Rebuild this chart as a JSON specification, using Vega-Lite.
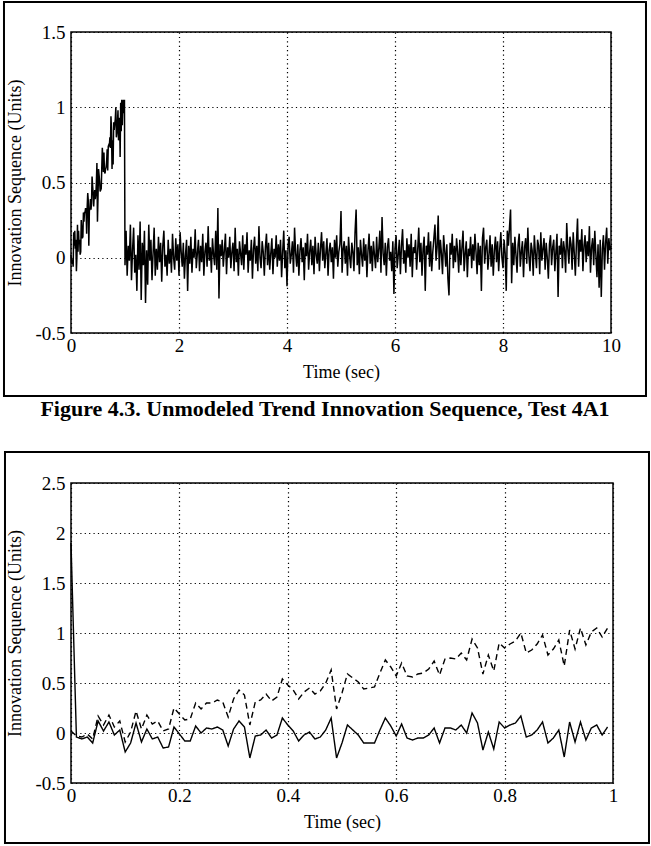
{
"$schema":"https://vega.github.io/schema/vega-lite/v6.json",
"padding":{"left":2,"top":0,"right":0,"bottom":0},
"background":"white",
"spacing":29,
"config":{
"locale":{"number":{"decimal":".","thousands":",","grouping":[3],"currency":["$",""],"minus":"-"}},
"font":"Liberation Serif",
"view":{"stroke":"black","strokeWidth":1.5},
"axis":{"labelFont":"Liberation Serif","labelFontSize":19,"labelColor":"black","labelFlush":false,"labelOverlap":false,"titleFont":"Liberation Serif","titleFontSize":18,"titleFontWeight":"normal","titleColor":"black","domain":false,"ticks":false,"grid":true,"gridColor":"black","gridDash":[1.2,3.2],"gridWidth":1.2,"gridOpacity":1},
"axisX":{"titlePadding":8,"labelPadding":3},
"axisY":{"titlePadding":10,"labelPadding":6}
},
"datasets":{
"top":[
{"t":0.00,"v":0.02},{"t":0.01,"v":-0.03},{"t":0.02,"v":-0.04},{"t":0.03,"v":-0.01},{"t":0.04,"v":-0.06},{"t":0.05,"v":0.17},{"t":0.06,"v":0.08},{"t":0.07,"v":0.18},{"t":0.08,"v":0.06},{"t":0.09,"v":0.12},
{"t":0.10,"v":-0.09},{"t":0.11,"v":0.01},{"t":0.12,"v":0.22},{"t":0.13,"v":0.04},{"t":0.14,"v":0.18},{"t":0.15,"v":0.09},{"t":0.16,"v":0.12},{"t":0.17,"v":0.02},{"t":0.18,"v":0.04},{"t":0.19,"v":0.25},
{"t":0.20,"v":0.19},{"t":0.21,"v":0.13},{"t":0.22,"v":0.14},{"t":0.23,"v":0.30},{"t":0.24,"v":0.24},{"t":0.25,"v":0.30},{"t":0.26,"v":0.30},{"t":0.27,"v":0.33},{"t":0.28,"v":0.31},{"t":0.29,"v":0.16},
{"t":0.30,"v":0.34},{"t":0.31,"v":0.43},{"t":0.32,"v":0.38},{"t":0.33,"v":0.08},{"t":0.34,"v":0.31},{"t":0.35,"v":0.33},{"t":0.36,"v":0.39},{"t":0.37,"v":0.32},{"t":0.38,"v":0.36},{"t":0.39,"v":0.54},
{"t":0.40,"v":0.48},{"t":0.41,"v":0.43},{"t":0.42,"v":0.34},{"t":0.43,"v":0.41},{"t":0.44,"v":0.45},{"t":0.45,"v":0.39},{"t":0.46,"v":0.42},{"t":0.47,"v":0.50},{"t":0.48,"v":0.63},{"t":0.49,"v":0.24},
{"t":0.50,"v":0.40},{"t":0.51,"v":0.59},{"t":0.52,"v":0.55},{"t":0.53,"v":0.51},{"t":0.54,"v":0.44},{"t":0.55,"v":0.45},{"t":0.56,"v":0.46},{"t":0.57,"v":0.60},{"t":0.58,"v":0.73},{"t":0.59,"v":0.66},
{"t":0.60,"v":0.57},{"t":0.61,"v":0.70},{"t":0.62,"v":0.57},{"t":0.63,"v":0.56},{"t":0.64,"v":0.59},{"t":0.65,"v":0.60},{"t":0.66,"v":0.64},{"t":0.67,"v":0.72},{"t":0.68,"v":0.58},{"t":0.69,"v":0.74},
{"t":0.70,"v":0.75},{"t":0.71,"v":0.74},{"t":0.72,"v":0.80},{"t":0.73,"v":0.73},{"t":0.74,"v":0.94},{"t":0.75,"v":0.85},{"t":0.76,"v":0.59},{"t":0.77,"v":0.78},{"t":0.78,"v":0.62},{"t":0.79,"v":0.90},
{"t":0.80,"v":0.85},{"t":0.81,"v":0.89},{"t":0.82,"v":0.92},{"t":0.83,"v":1.00},{"t":0.84,"v":0.80},{"t":0.85,"v":0.83},{"t":0.86,"v":0.89},{"t":0.87,"v":0.98},{"t":0.88,"v":0.78},{"t":0.89,"v":0.84},
{"t":0.90,"v":0.93},{"t":0.91,"v":0.67},{"t":0.92,"v":1.03},{"t":0.93,"v":0.84},{"t":0.94,"v":1.05},{"t":0.95,"v":0.88},{"t":0.96,"v":1.01},{"t":0.97,"v":1.05},{"t":0.98,"v":0.96},{"t":0.99,"v":1.05},
{"t":1.00,"v":-0.05},{"t":1.02,"v":0.18},{"t":1.04,"v":-0.12},{"t":1.06,"v":0.08},{"t":1.08,"v":-0.02},{"t":1.10,"v":0.22},{"t":1.12,"v":-0.15},{"t":1.14,"v":0.05},{"t":1.16,"v":0.20},{"t":1.18,"v":-0.10},
{"t":1.20,"v":0.02},{"t":1.22,"v":-0.22},{"t":1.24,"v":0.15},{"t":1.26,"v":-0.08},{"t":1.28,"v":0.24},{"t":1.30,"v":-0.28},{"t":1.32,"v":0.10},{"t":1.34,"v":-0.05},{"t":1.36,"v":0.18},{"t":1.38,"v":-0.30},
{"t":1.40,"v":0.05},{"t":1.42,"v":-0.18},{"t":1.44,"v":0.22},{"t":1.46,"v":-0.02},{"t":1.48,"v":0.12},{"t":1.50,"v":-0.15},{"t":1.52,"v":0.03},{"t":1.54,"v":0.20},{"t":1.56,"v":-0.12},{"t":1.58,"v":0.06},
{"t":1.60,"v":-0.08},{"t":1.62,"v":0.14},{"t":1.64,"v":-0.03},{"t":1.66,"v":0.10},{"t":1.68,"v":-0.16},{"t":1.70,"v":0.08},{"t":1.72,"v":0.18},{"t":1.74,"v":-0.06},{"t":1.76,"v":0.02},{"t":1.78,"v":-0.12},
{"t":1.80,"v":0.12},{"t":1.82,"v":-0.04},{"t":1.84,"v":0.06},{"t":1.86,"v":-0.10},{"t":1.88,"v":0.16},{"t":1.90,"v":0.00},{"t":1.92,"v":-0.08},{"t":1.94,"v":0.13},{"t":1.96,"v":-0.02},{"t":1.98,"v":0.09},
{"t":2.00,"v":-0.12},{"t":2.02,"v":0.17},{"t":2.04,"v":0.04},{"t":2.06,"v":-0.06},{"t":2.08,"v":0.10},{"t":2.10,"v":-0.14},{"t":2.12,"v":0.02},{"t":2.14,"v":0.12},{"t":2.16,"v":-0.22},{"t":2.18,"v":0.08},
{"t":2.20,"v":-0.04},{"t":2.22,"v":0.14},{"t":2.24,"v":-0.10},{"t":2.26,"v":0.06},{"t":2.28,"v":0.00},{"t":2.30,"v":0.19},{"t":2.32,"v":-0.07},{"t":2.34,"v":0.03},{"t":2.36,"v":0.12},{"t":2.38,"v":-0.09},
{"t":2.40,"v":0.08},{"t":2.42,"v":-0.03},{"t":2.44,"v":0.16},{"t":2.46,"v":-0.12},{"t":2.48,"v":0.04},{"t":2.50,"v":0.10},{"t":2.52,"v":-0.06},{"t":2.54,"v":0.21},{"t":2.56,"v":-0.02},{"t":2.58,"v":0.07},
{"t":2.60,"v":-0.10},{"t":2.62,"v":0.13},{"t":2.64,"v":0.02},{"t":2.66,"v":-0.05},{"t":2.68,"v":0.18},{"t":2.70,"v":-0.08},{"t":2.72,"v":0.33},{"t":2.74,"v":-0.27},{"t":2.76,"v":0.09},{"t":2.78,"v":0.01},
{"t":2.80,"v":0.12},{"t":2.82,"v":-0.06},{"t":2.84,"v":0.05},{"t":2.86,"v":0.16},{"t":2.88,"v":-0.11},{"t":2.90,"v":0.07},{"t":2.92,"v":0.00},{"t":2.94,"v":0.14},{"t":2.96,"v":-0.07},{"t":2.98,"v":0.04},
{"t":3.00,"v":0.10},{"t":3.02,"v":-0.09},{"t":3.04,"v":0.20},{"t":3.06,"v":-0.03},{"t":3.08,"v":0.06},{"t":3.10,"v":-0.12},{"t":3.12,"v":0.11},{"t":3.14,"v":0.03},{"t":3.16,"v":-0.05},{"t":3.18,"v":0.15},
{"t":3.20,"v":-0.08},{"t":3.22,"v":0.09},{"t":3.24,"v":0.02},{"t":3.26,"v":0.17},{"t":3.28,"v":-0.10},{"t":3.30,"v":0.05},{"t":3.32,"v":-0.02},{"t":3.34,"v":0.12},{"t":3.36,"v":-0.14},{"t":3.38,"v":0.06},
{"t":3.40,"v":0.14},{"t":3.42,"v":-0.04},{"t":3.44,"v":0.08},{"t":3.46,"v":-0.09},{"t":3.48,"v":0.21},{"t":3.50,"v":0.00},{"t":3.52,"v":-0.07},{"t":3.54,"v":0.11},{"t":3.56,"v":0.04},{"t":3.58,"v":-0.12},
{"t":3.60,"v":0.07},{"t":3.62,"v":0.16},{"t":3.64,"v":-0.05},{"t":3.66,"v":0.10},{"t":3.68,"v":-0.08},{"t":3.70,"v":0.03},{"t":3.72,"v":0.13},{"t":3.74,"v":-0.11},{"t":3.76,"v":0.06},{"t":3.78,"v":0.00},
{"t":3.80,"v":0.15},{"t":3.82,"v":-0.06},{"t":3.84,"v":0.09},{"t":3.86,"v":-0.02},{"t":3.88,"v":0.12},{"t":3.90,"v":-0.13},{"t":3.92,"v":0.04},{"t":3.94,"v":0.18},{"t":3.96,"v":-0.07},{"t":3.98,"v":0.05},
{"t":4.00,"v":-0.19},{"t":4.02,"v":0.08},{"t":4.04,"v":0.14},{"t":4.06,"v":-0.04},{"t":4.08,"v":0.02},{"t":4.10,"v":0.11},{"t":4.12,"v":-0.10},{"t":4.14,"v":0.20},{"t":4.16,"v":0.03},{"t":4.18,"v":-0.06},
{"t":4.20,"v":0.09},{"t":4.22,"v":-0.12},{"t":4.24,"v":0.05},{"t":4.26,"v":0.13},{"t":4.28,"v":-0.03},{"t":4.30,"v":0.07},{"t":4.32,"v":-0.15},{"t":4.34,"v":0.10},{"t":4.36,"v":0.01},{"t":4.38,"v":0.16},
{"t":4.40,"v":-0.08},{"t":4.42,"v":0.04},{"t":4.44,"v":0.12},{"t":4.46,"v":-0.05},{"t":4.48,"v":0.08},{"t":4.50,"v":-0.11},{"t":4.52,"v":0.14},{"t":4.54,"v":0.02},{"t":4.56,"v":-0.04},{"t":4.58,"v":0.10},
{"t":4.60,"v":-0.09},{"t":4.62,"v":0.06},{"t":4.64,"v":0.17},{"t":4.66,"v":-0.02},{"t":4.68,"v":0.11},{"t":4.70,"v":-0.07},{"t":4.72,"v":0.03},{"t":4.74,"v":0.13},{"t":4.76,"v":-0.12},{"t":4.78,"v":0.05},
{"t":4.80,"v":0.10},{"t":4.82,"v":-0.03},{"t":4.84,"v":0.07},{"t":4.86,"v":-0.14},{"t":4.88,"v":0.12},{"t":4.90,"v":0.00},{"t":4.92,"v":0.15},{"t":4.94,"v":-0.06},{"t":4.96,"v":0.04},{"t":4.98,"v":0.09},
{"t":5.00,"v":0.31},{"t":5.02,"v":-0.10},{"t":5.04,"v":0.06},{"t":5.06,"v":0.11},{"t":5.08,"v":-0.04},{"t":5.10,"v":0.08},{"t":5.12,"v":-0.12},{"t":5.14,"v":0.14},{"t":5.16,"v":0.01},{"t":5.18,"v":-0.07},
{"t":5.20,"v":0.10},{"t":5.22,"v":0.04},{"t":5.24,"v":-0.09},{"t":5.26,"v":0.17},{"t":5.28,"v":0.32},{"t":5.30,"v":-0.05},{"t":5.32,"v":0.07},{"t":5.34,"v":-0.11},{"t":5.36,"v":0.12},{"t":5.38,"v":0.02},
{"t":5.40,"v":-0.06},{"t":5.42,"v":0.13},{"t":5.44,"v":-0.02},{"t":5.46,"v":0.09},{"t":5.48,"v":-0.13},{"t":5.50,"v":0.05},{"t":5.52,"v":0.16},{"t":5.54,"v":-0.04},{"t":5.56,"v":0.08},{"t":5.58,"v":-0.09},
{"t":5.60,"v":0.11},{"t":5.62,"v":0.02},{"t":5.64,"v":-0.07},{"t":5.66,"v":0.14},{"t":5.68,"v":-0.03},{"t":5.70,"v":0.06},{"t":5.72,"v":0.18},{"t":5.74,"v":-0.10},{"t":5.76,"v":0.27},{"t":5.78,"v":0.03},
{"t":5.80,"v":-0.05},{"t":5.82,"v":0.10},{"t":5.84,"v":-0.12},{"t":5.86,"v":0.07},{"t":5.88,"v":0.13},{"t":5.90,"v":-0.02},{"t":5.92,"v":0.04},{"t":5.94,"v":-0.09},{"t":5.96,"v":0.11},{"t":5.98,"v":-0.24},
{"t":6.00,"v":0.06},{"t":6.02,"v":0.15},{"t":6.04,"v":-0.07},{"t":6.06,"v":0.02},{"t":6.08,"v":0.12},{"t":6.10,"v":-0.11},{"t":6.12,"v":0.08},{"t":6.14,"v":0.19},{"t":6.16,"v":-0.04},{"t":6.18,"v":0.05},
{"t":6.20,"v":-0.10},{"t":6.22,"v":0.13},{"t":6.24,"v":0.00},{"t":6.26,"v":0.09},{"t":6.28,"v":-0.06},{"t":6.30,"v":0.16},{"t":6.32,"v":-0.13},{"t":6.34,"v":0.07},{"t":6.36,"v":0.03},{"t":6.38,"v":0.12},
{"t":6.40,"v":-0.08},{"t":6.42,"v":0.05},{"t":6.44,"v":0.20},{"t":6.46,"v":-0.03},{"t":6.48,"v":0.10},{"t":6.50,"v":-0.12},{"t":6.52,"v":0.06},{"t":6.54,"v":0.14},{"t":6.56,"v":-0.22},{"t":6.58,"v":0.08},
{"t":6.60,"v":0.02},{"t":6.62,"v":0.17},{"t":6.64,"v":-0.06},{"t":6.66,"v":0.11},{"t":6.68,"v":-0.09},{"t":6.70,"v":0.04},{"t":6.72,"v":0.13},{"t":6.74,"v":0.22},{"t":6.76,"v":-0.02},{"t":6.78,"v":0.07},
{"t":6.80,"v":0.28},{"t":6.82,"v":-0.08},{"t":6.84,"v":0.12},{"t":6.86,"v":0.03},{"t":6.88,"v":-0.11},{"t":6.90,"v":0.15},{"t":6.92,"v":0.05},{"t":6.94,"v":-0.06},{"t":6.96,"v":0.09},{"t":6.98,"v":-0.14},
{"t":7.00,"v":-0.25},{"t":7.02,"v":0.10},{"t":7.04,"v":0.02},{"t":7.06,"v":0.16},{"t":7.08,"v":-0.07},{"t":7.10,"v":0.08},{"t":7.12,"v":-0.03},{"t":7.14,"v":0.13},{"t":7.16,"v":0.04},{"t":7.18,"v":-0.10},
{"t":7.20,"v":0.12},{"t":7.22,"v":-0.05},{"t":7.24,"v":0.07},{"t":7.26,"v":0.18},{"t":7.28,"v":-0.09},{"t":7.30,"v":0.03},{"t":7.32,"v":0.11},{"t":7.34,"v":-0.13},{"t":7.36,"v":0.06},{"t":7.38,"v":0.01},
{"t":7.40,"v":0.14},{"t":7.42,"v":-0.07},{"t":7.44,"v":0.09},{"t":7.46,"v":-0.02},{"t":7.48,"v":0.16},{"t":7.50,"v":0.04},{"t":7.52,"v":-0.11},{"t":7.54,"v":0.10},{"t":7.56,"v":-0.05},{"t":7.58,"v":0.08},
{"t":7.60,"v":-0.22},{"t":7.62,"v":0.13},{"t":7.64,"v":0.20},{"t":7.66,"v":-0.04},{"t":7.68,"v":0.07},{"t":7.70,"v":0.12},{"t":7.72,"v":-0.08},{"t":7.74,"v":0.02},{"t":7.76,"v":0.15},{"t":7.78,"v":-0.06},
{"t":7.80,"v":0.09},{"t":7.82,"v":-0.12},{"t":7.84,"v":0.05},{"t":7.86,"v":0.14},{"t":7.88,"v":-0.03},{"t":7.90,"v":0.11},{"t":7.92,"v":-0.09},{"t":7.94,"v":0.06},{"t":7.96,"v":0.17},{"t":7.98,"v":0.00},
{"t":8.00,"v":-0.07},{"t":8.02,"v":0.12},{"t":8.04,"v":0.03},{"t":8.06,"v":-0.22},{"t":8.08,"v":0.18},{"t":8.10,"v":0.08},{"t":8.12,"v":0.20},{"t":8.14,"v":0.32},{"t":8.16,"v":-0.17},{"t":8.18,"v":0.10},
{"t":8.20,"v":-0.05},{"t":8.22,"v":0.14},{"t":8.24,"v":0.02},{"t":8.26,"v":-0.10},{"t":8.28,"v":0.09},{"t":8.30,"v":0.16},{"t":8.32,"v":-0.06},{"t":8.34,"v":0.04},{"t":8.36,"v":0.11},{"t":8.38,"v":-0.13},
{"t":8.40,"v":0.07},{"t":8.42,"v":0.13},{"t":8.44,"v":-0.04},{"t":8.46,"v":0.20},{"t":8.48,"v":0.01},{"t":8.50,"v":-0.09},{"t":8.52,"v":0.10},{"t":8.54,"v":0.05},{"t":8.56,"v":-0.12},{"t":8.58,"v":0.15},
{"t":8.60,"v":0.03},{"t":8.62,"v":-0.07},{"t":8.64,"v":0.12},{"t":8.66,"v":0.08},{"t":8.68,"v":-0.11},{"t":8.70,"v":0.17},{"t":8.72,"v":-0.02},{"t":8.74,"v":0.06},{"t":8.76,"v":0.13},{"t":8.78,"v":-0.08},
{"t":8.80,"v":0.10},{"t":8.82,"v":0.00},{"t":8.84,"v":-0.14},{"t":8.86,"v":0.09},{"t":8.88,"v":0.15},{"t":8.90,"v":-0.05},{"t":8.92,"v":0.07},{"t":8.94,"v":0.12},{"t":8.96,"v":-0.09},{"t":8.98,"v":0.04},
{"t":9.00,"v":0.16},{"t":9.02,"v":-0.26},{"t":9.04,"v":0.08},{"t":9.06,"v":0.02},{"t":9.08,"v":0.13},{"t":9.10,"v":-0.07},{"t":9.12,"v":0.11},{"t":9.14,"v":0.05},{"t":9.16,"v":-0.10},{"t":9.18,"v":0.23},
{"t":9.20,"v":0.06},{"t":9.22,"v":-0.04},{"t":9.24,"v":0.14},{"t":9.26,"v":0.09},{"t":9.28,"v":-0.08},{"t":9.30,"v":0.17},{"t":9.32,"v":0.03},{"t":9.34,"v":-0.12},{"t":9.36,"v":0.10},{"t":9.38,"v":0.26},
{"t":9.40,"v":-0.06},{"t":9.42,"v":0.12},{"t":9.44,"v":0.04},{"t":9.46,"v":0.19},{"t":9.48,"v":-0.09},{"t":9.50,"v":0.08},{"t":9.52,"v":0.15},{"t":9.54,"v":-0.03},{"t":9.56,"v":0.11},{"t":9.58,"v":0.01},
{"t":9.60,"v":0.21},{"t":9.62,"v":-0.10},{"t":9.64,"v":0.07},{"t":9.66,"v":0.13},{"t":9.68,"v":-0.05},{"t":9.70,"v":0.18},{"t":9.72,"v":0.02},{"t":9.74,"v":-0.13},{"t":9.76,"v":0.09},{"t":9.78,"v":-0.20},
{"t":9.80,"v":0.12},{"t":9.82,"v":-0.26},{"t":9.84,"v":0.06},{"t":9.86,"v":0.15},{"t":9.88,"v":-0.08},{"t":9.90,"v":0.10},{"t":9.92,"v":0.20},{"t":9.94,"v":-0.04},{"t":9.96,"v":0.13},{"t":9.98,"v":0.05},
{"t":10.00,"v":0.08}
],
"bottom":[
{"t":0.00,"v":1.90,"s":"solid"},{"t":0.01,"v":-0.04,"s":"solid"},{"t":0.02,"v":-0.06,"s":"solid"},{"t":0.03,"v":-0.04,"s":"solid"},{"t":0.04,"v":-0.10,"s":"solid"},{"t":0.05,"v":0.12,"s":"solid"},{"t":0.06,"v":0.02,"s":"solid"},{"t":0.07,"v":0.11,"s":"solid"},{"t":0.08,"v":-0.02,"s":"solid"},{"t":0.09,"v":0.03,"s":"solid"},
{"t":0.10,"v":-0.19,"s":"solid"},{"t":0.11,"v":-0.10,"s":"solid"},{"t":0.12,"v":0.10,"s":"solid"},{"t":0.13,"v":-0.09,"s":"solid"},{"t":0.14,"v":0.04,"s":"solid"},{"t":0.15,"v":-0.06,"s":"solid"},{"t":0.16,"v":-0.04,"s":"solid"},{"t":0.17,"v":-0.15,"s":"solid"},{"t":0.18,"v":-0.14,"s":"solid"},{"t":0.19,"v":0.06,"s":"solid"},
{"t":0.20,"v":-0.01,"s":"solid"},{"t":0.21,"v":-0.08,"s":"solid"},{"t":0.22,"v":-0.08,"s":"solid"},{"t":0.23,"v":0.07,"s":"solid"},{"t":0.24,"v":0.00,"s":"solid"},{"t":0.25,"v":0.05,"s":"solid"},{"t":0.26,"v":0.04,"s":"solid"},{"t":0.27,"v":0.06,"s":"solid"},{"t":0.28,"v":0.03,"s":"solid"},{"t":0.29,"v":-0.13,"s":"solid"},
{"t":0.30,"v":0.04,"s":"solid"},{"t":0.31,"v":0.12,"s":"solid"},{"t":0.32,"v":0.06,"s":"solid"},{"t":0.33,"v":-0.25,"s":"solid"},{"t":0.34,"v":-0.03,"s":"solid"},{"t":0.35,"v":-0.02,"s":"solid"},{"t":0.36,"v":0.03,"s":"solid"},{"t":0.37,"v":-0.05,"s":"solid"},{"t":0.38,"v":-0.02,"s":"solid"},{"t":0.39,"v":0.15,"s":"solid"},
{"t":0.40,"v":0.08,"s":"solid"},{"t":0.41,"v":0.02,"s":"solid"},{"t":0.42,"v":-0.08,"s":"solid"},{"t":0.43,"v":-0.02,"s":"solid"},{"t":0.44,"v":0.01,"s":"solid"},{"t":0.45,"v":-0.06,"s":"solid"},{"t":0.46,"v":-0.04,"s":"solid"},{"t":0.47,"v":0.03,"s":"solid"},{"t":0.48,"v":0.15,"s":"solid"},{"t":0.49,"v":-0.25,"s":"solid"},
{"t":0.50,"v":-0.10,"s":"solid"},{"t":0.51,"v":0.08,"s":"solid"},{"t":0.52,"v":0.03,"s":"solid"},{"t":0.53,"v":-0.02,"s":"solid"},{"t":0.54,"v":-0.10,"s":"solid"},{"t":0.55,"v":-0.10,"s":"solid"},{"t":0.56,"v":-0.10,"s":"solid"},{"t":0.57,"v":0.03,"s":"solid"},{"t":0.58,"v":0.15,"s":"solid"},{"t":0.59,"v":0.07,"s":"solid"},
{"t":0.60,"v":-0.03,"s":"solid"},{"t":0.61,"v":0.09,"s":"solid"},{"t":0.62,"v":-0.05,"s":"solid"},{"t":0.63,"v":-0.07,"s":"solid"},{"t":0.64,"v":-0.05,"s":"solid"},{"t":0.65,"v":-0.05,"s":"solid"},{"t":0.66,"v":-0.02,"s":"solid"},{"t":0.67,"v":0.05,"s":"solid"},{"t":0.68,"v":-0.10,"s":"solid"},{"t":0.69,"v":0.05,"s":"solid"},
{"t":0.70,"v":0.05,"s":"solid"},{"t":0.71,"v":0.03,"s":"solid"},{"t":0.72,"v":0.08,"s":"solid"},{"t":0.73,"v":0.00,"s":"solid"},{"t":0.74,"v":0.20,"s":"solid"},{"t":0.75,"v":0.10,"s":"solid"},{"t":0.76,"v":-0.17,"s":"solid"},{"t":0.77,"v":0.01,"s":"solid"},{"t":0.78,"v":-0.16,"s":"solid"},{"t":0.79,"v":0.11,"s":"solid"},
{"t":0.80,"v":0.05,"s":"solid"},{"t":0.81,"v":0.08,"s":"solid"},{"t":0.82,"v":0.10,"s":"solid"},{"t":0.83,"v":0.17,"s":"solid"},{"t":0.84,"v":-0.04,"s":"solid"},{"t":0.85,"v":-0.02,"s":"solid"},{"t":0.86,"v":0.03,"s":"solid"},{"t":0.87,"v":0.11,"s":"solid"},{"t":0.88,"v":-0.10,"s":"solid"},{"t":0.89,"v":-0.05,"s":"solid"},
{"t":0.90,"v":0.03,"s":"solid"},{"t":0.91,"v":-0.24,"s":"solid"},{"t":0.92,"v":0.11,"s":"solid"},{"t":0.93,"v":-0.09,"s":"solid"},{"t":0.94,"v":0.11,"s":"solid"},{"t":0.95,"v":-0.07,"s":"solid"},{"t":0.96,"v":0.05,"s":"solid"},{"t":0.97,"v":0.08,"s":"solid"},{"t":0.98,"v":-0.02,"s":"solid"},{"t":0.99,"v":0.06,"s":"solid"},
{"t":0.00,"v":0.02,"s":"dashed"},{"t":0.01,"v":-0.03,"s":"dashed"},{"t":0.02,"v":-0.04,"s":"dashed"},{"t":0.03,"v":-0.01,"s":"dashed"},{"t":0.04,"v":-0.06,"s":"dashed"},{"t":0.05,"v":0.17,"s":"dashed"},{"t":0.06,"v":0.08,"s":"dashed"},{"t":0.07,"v":0.18,"s":"dashed"},{"t":0.08,"v":0.06,"s":"dashed"},{"t":0.09,"v":0.12,"s":"dashed"},
{"t":0.10,"v":-0.09,"s":"dashed"},{"t":0.11,"v":0.01,"s":"dashed"},{"t":0.12,"v":0.22,"s":"dashed"},{"t":0.13,"v":0.04,"s":"dashed"},{"t":0.14,"v":0.18,"s":"dashed"},{"t":0.15,"v":0.09,"s":"dashed"},{"t":0.16,"v":0.12,"s":"dashed"},{"t":0.17,"v":0.02,"s":"dashed"},{"t":0.18,"v":0.04,"s":"dashed"},{"t":0.19,"v":0.25,"s":"dashed"},
{"t":0.20,"v":0.19,"s":"dashed"},{"t":0.21,"v":0.13,"s":"dashed"},{"t":0.22,"v":0.14,"s":"dashed"},{"t":0.23,"v":0.30,"s":"dashed"},{"t":0.24,"v":0.24,"s":"dashed"},{"t":0.25,"v":0.30,"s":"dashed"},{"t":0.26,"v":0.30,"s":"dashed"},{"t":0.27,"v":0.33,"s":"dashed"},{"t":0.28,"v":0.31,"s":"dashed"},{"t":0.29,"v":0.16,"s":"dashed"},
{"t":0.30,"v":0.34,"s":"dashed"},{"t":0.31,"v":0.43,"s":"dashed"},{"t":0.32,"v":0.38,"s":"dashed"},{"t":0.33,"v":0.08,"s":"dashed"},{"t":0.34,"v":0.31,"s":"dashed"},{"t":0.35,"v":0.33,"s":"dashed"},{"t":0.36,"v":0.39,"s":"dashed"},{"t":0.37,"v":0.32,"s":"dashed"},{"t":0.38,"v":0.36,"s":"dashed"},{"t":0.39,"v":0.54,"s":"dashed"},
{"t":0.40,"v":0.48,"s":"dashed"},{"t":0.41,"v":0.43,"s":"dashed"},{"t":0.42,"v":0.34,"s":"dashed"},{"t":0.43,"v":0.41,"s":"dashed"},{"t":0.44,"v":0.45,"s":"dashed"},{"t":0.45,"v":0.39,"s":"dashed"},{"t":0.46,"v":0.42,"s":"dashed"},{"t":0.47,"v":0.50,"s":"dashed"},{"t":0.48,"v":0.63,"s":"dashed"},{"t":0.49,"v":0.24,"s":"dashed"},
{"t":0.50,"v":0.40,"s":"dashed"},{"t":0.51,"v":0.59,"s":"dashed"},{"t":0.52,"v":0.55,"s":"dashed"},{"t":0.53,"v":0.51,"s":"dashed"},{"t":0.54,"v":0.44,"s":"dashed"},{"t":0.55,"v":0.45,"s":"dashed"},{"t":0.56,"v":0.46,"s":"dashed"},{"t":0.57,"v":0.60,"s":"dashed"},{"t":0.58,"v":0.73,"s":"dashed"},{"t":0.59,"v":0.66,"s":"dashed"},
{"t":0.60,"v":0.57,"s":"dashed"},{"t":0.61,"v":0.70,"s":"dashed"},{"t":0.62,"v":0.57,"s":"dashed"},{"t":0.63,"v":0.56,"s":"dashed"},{"t":0.64,"v":0.59,"s":"dashed"},{"t":0.65,"v":0.60,"s":"dashed"},{"t":0.66,"v":0.64,"s":"dashed"},{"t":0.67,"v":0.72,"s":"dashed"},{"t":0.68,"v":0.58,"s":"dashed"},{"t":0.69,"v":0.74,"s":"dashed"},
{"t":0.70,"v":0.75,"s":"dashed"},{"t":0.71,"v":0.74,"s":"dashed"},{"t":0.72,"v":0.80,"s":"dashed"},{"t":0.73,"v":0.73,"s":"dashed"},{"t":0.74,"v":0.94,"s":"dashed"},{"t":0.75,"v":0.85,"s":"dashed"},{"t":0.76,"v":0.59,"s":"dashed"},{"t":0.77,"v":0.78,"s":"dashed"},{"t":0.78,"v":0.62,"s":"dashed"},{"t":0.79,"v":0.90,"s":"dashed"},
{"t":0.80,"v":0.85,"s":"dashed"},{"t":0.81,"v":0.89,"s":"dashed"},{"t":0.82,"v":0.92,"s":"dashed"},{"t":0.83,"v":1.00,"s":"dashed"},{"t":0.84,"v":0.80,"s":"dashed"},{"t":0.85,"v":0.83,"s":"dashed"},{"t":0.86,"v":0.89,"s":"dashed"},{"t":0.87,"v":0.98,"s":"dashed"},{"t":0.88,"v":0.78,"s":"dashed"},{"t":0.89,"v":0.84,"s":"dashed"},
{"t":0.90,"v":0.93,"s":"dashed"},{"t":0.91,"v":0.67,"s":"dashed"},{"t":0.92,"v":1.03,"s":"dashed"},{"t":0.93,"v":0.84,"s":"dashed"},{"t":0.94,"v":1.05,"s":"dashed"},{"t":0.95,"v":0.88,"s":"dashed"},{"t":0.96,"v":1.01,"s":"dashed"},{"t":0.97,"v":1.05,"s":"dashed"},{"t":0.98,"v":0.96,"s":"dashed"},{"t":0.99,"v":1.05,"s":"dashed"}
]
},
"vconcat":[
{
"width":540,"height":301,
"title":{"text":"Figure 4.3.  Unmodeled Trend Innovation Sequence, Test 4A1","orient":"bottom","anchor":"middle","frame":"bounds","font":"Liberation Serif","fontSize":22,"fontWeight":"bold","color":"black","offset":2},
"layer":[
{"data":{"name":"top"},
"mark":{"type":"line","color":"black","strokeWidth":1.5},
"encoding":{
"x":{"field":"t","type":"quantitative","scale":{"domain":[0,10],"nice":false,"zero":false},"axis":{"title":"Time (sec)","values":[0,2,4,6,8,10],"format":"~r"}},
"y":{"field":"v","type":"quantitative","scale":{"domain":[-0.5,1.5],"nice":false,"zero":false},"axis":{"title":"Innovation Sequence (Units)","values":[-0.5,0,0.5,1,1.5],"format":"~r"}}
}},
{"data":{"values":[{}]},
"mark":{"type":"rect","fillOpacity":0,"stroke":"black","strokeWidth":2,"clip":false},
"encoding":{"x":{"datum":-1.241,"type":"quantitative"},"x2":{"datum":10.648},"y":{"datum":1.699,"type":"quantitative"},"y2":{"datum":-0.919}}}
]
},
{
"width":542,"height":300,
"layer":[
{"data":{"name":"bottom"},
"mark":{"type":"line","color":"black","strokeWidth":1.4},
"encoding":{
"x":{"field":"t","type":"quantitative","scale":{"domain":[0,1],"nice":false,"zero":false},"axis":{"title":"Time (sec)","values":[0,0.2,0.4,0.6,0.8,1],"format":"~r"}},
"y":{"field":"v","type":"quantitative","scale":{"domain":[-0.5,2.5],"nice":false,"zero":false},"axis":{"title":"Innovation Sequence (Units)","values":[-0.5,0,0.5,1,1.5,2,2.5],"format":"~r"}},
"strokeDash":{"field":"s","type":"nominal","scale":{"domain":["solid","dashed"],"range":[[1,0],[6,4]]},"legend":null}
}},
{"data":{"values":[{}]},
"mark":{"type":"rect","fillOpacity":0,"stroke":"black","strokeWidth":2,"clip":false},
"encoding":{"x":{"datum":-0.1218,"type":"quantitative"},"x2":{"datum":1.0664},"y":{"datum":2.81,"type":"quantitative"},"y2":{"datum":-1.10}}}
]
}
]
}
